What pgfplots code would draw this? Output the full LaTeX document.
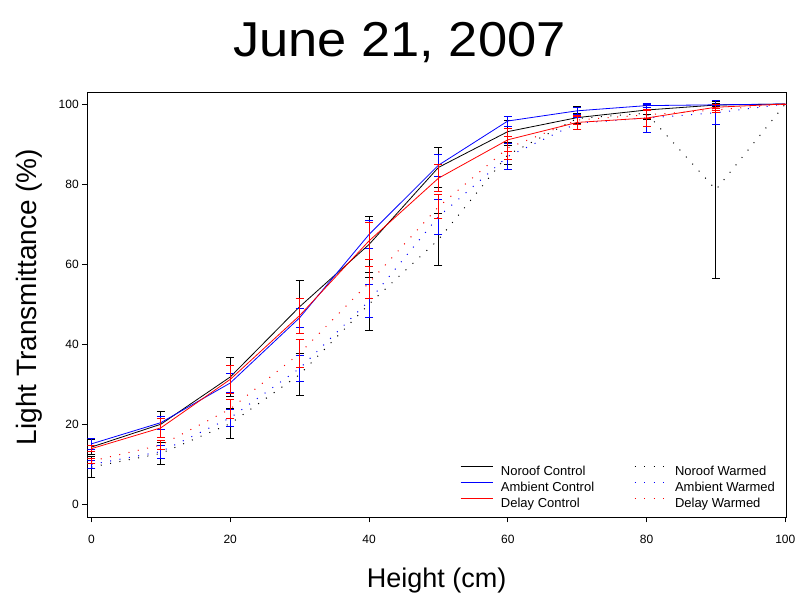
\documentclass[border=0pt]{standalone}
\usepackage{fontspec}
\setmainfont{Liberation Sans}
\newfontfamily\titlefont{Liberation Sans}[FakeStretch=1.07]
\usepackage{pgfplots}
\usepackage{pgfplotstable}
\pgfplotsset{compat=1.18}
\pgfplotstableread{
x   nc    ncE   ac    acE   dc    dcE   nw    nwE   aw    awE   dw    dwE
0   14.3  1.8   15.1  1.4   13.9  0.8   9.3   2.6   9.95  1.05  10.8  0.7
10  20.0  3.3   20.4  1.6   19.1  2.3   12.7  2.7   13.15 1.65  14.8  1.2
20  31.8  4.8   30.3  2.4   31.2  3.4   20.15 3.75  21.6  2.1   23.8  2.4
30  49.35 6.55  46.6  2.4   47.15 4.35  32.4  5.3   33.95 3.35  37.7  3.4
40  64.9  6.9   67.4  3.6   65.8  4.7   50.0  6.6   50.8  4.2   55.35 4.05
50  84.15 5.05  84.7  2.7   81.45 3.35  66.1  6.5   71.85 4.35  74.3  3.0
60  93.1  2.7   95.75 1.25  91.05 2.95  87.3  2.3   86.9  3.2   89.0  2.8
70  96.6  2.9   98.3  0.8   95.4  1.8   96.4  1.2   95.2  1.5   96.0  1.0
80  98.5  1.2   99.6  0.4   96.5  2.2   97.7  1.5   96.5  3.6   97.3  1.0
90  99.75 0.3   99.8  0.2   99.2  0.8   78.6  22.1  97.8  3.0   98.5  0.5
100 100   0     100   0     100   0     100   0     100   0     100   0
}\data
\pgfplotsset{
  ctrl/.style={#1, line width=0.8pt, solid, no markers,
    error bars/.cd, y dir=both, y explicit,
    error bar style={line width=0.9pt, solid, #1},
    error mark options={#1, rotate=90, mark size=4pt, line width=0.9pt, solid}},
  warm/.style={#1, line width=1pt, dash pattern=on 1pt off 8.5pt, no markers,
    error bars/.cd, y dir=both, y explicit,
    error bar style={line width=0.9pt, solid, #1},
    error mark options={#1, rotate=90, mark size=4pt, line width=0.9pt, solid}},
}
\begin{document}
\begin{tikzpicture}[x=1pt,y=1pt]
\useasboundingbox (-87.3,-82.7) rectangle (712.7,517.3);
\begin{axis}[
  scale only axis, width=698.7pt, height=425.3pt,
  at={(0,0)}, anchor=south west,
  xmin=-0.6, xmax=100.1, ymin=-3.25, ymax=103.0,
  xtick={0,20,...,100}, ytick={0,20,...,100},
  tick align=outside, tick pos=left, major tick length=5pt,
  axis line style={line width=0.8pt},
  every tick/.style={line width=0.8pt, black},
  ticklabel style={font=\fontsize{12}{14}\selectfont},
  /pgf/number format/assume math mode=true,
  xticklabel style={yshift=-9pt},
  every axis title shift=0pt,
  title={June 21, 2007},
  title style={font=\titlefont\fontsize{49}{58}\selectfont, at={(axis description cs:0.4468,1.0823)}, anchor=base},
  xlabel={Height (cm)},
  ylabel={Light Transmittance (\%)},
  xlabel style={font=\fontsize{27}{30}\selectfont, at={(axis description cs:0.5,-0.1639)}, anchor=base},
  ylabel style={font=\fontsize{28}{31}\selectfont, at={(axis description cs:-0.0720,0.518)}, anchor=base},
  legend columns=2,
  legend cell align=left,
  legend style={at={(axis description cs:0.5334,0.1260)}, anchor=north west,
    draw=none, fill=none, inner sep=0pt,
    font=\fontsize{13}{15}\selectfont,
    nodes={inner sep=2pt, text height=9.3pt, text depth=2.9pt},
    row sep=0pt,
    /tikz/column 2/.style={column sep=37.8pt}},
  legend image code/.code={\draw[#1] (0pt,6pt) -- (32pt,6pt); \path (0pt,0pt) (38pt,0pt);},
]
\addplot[ctrl=black] table[x=x, y=nc, y error=ncE] {\data};
\addlegendentry{Noroof Control}
\addplot[warm=black] table[x=x, y=nw, y error=nwE] {\data};
\addlegendentry{Noroof Warmed}
\addplot[ctrl=blue] table[x=x, y=ac, y error=acE] {\data};
\addlegendentry{Ambient Control}
\addplot[warm=blue] table[x=x, y=aw, y error=awE] {\data};
\addlegendentry{Ambient Warmed}
\addplot[ctrl=red] table[x=x, y=dc, y error=dcE] {\data};
\addlegendentry{Delay Control}
\addplot[warm=red] table[x=x, y=dw, y error=dwE] {\data};
\addlegendentry{Delay Warmed}
\end{axis}
\end{tikzpicture}
\end{document}
